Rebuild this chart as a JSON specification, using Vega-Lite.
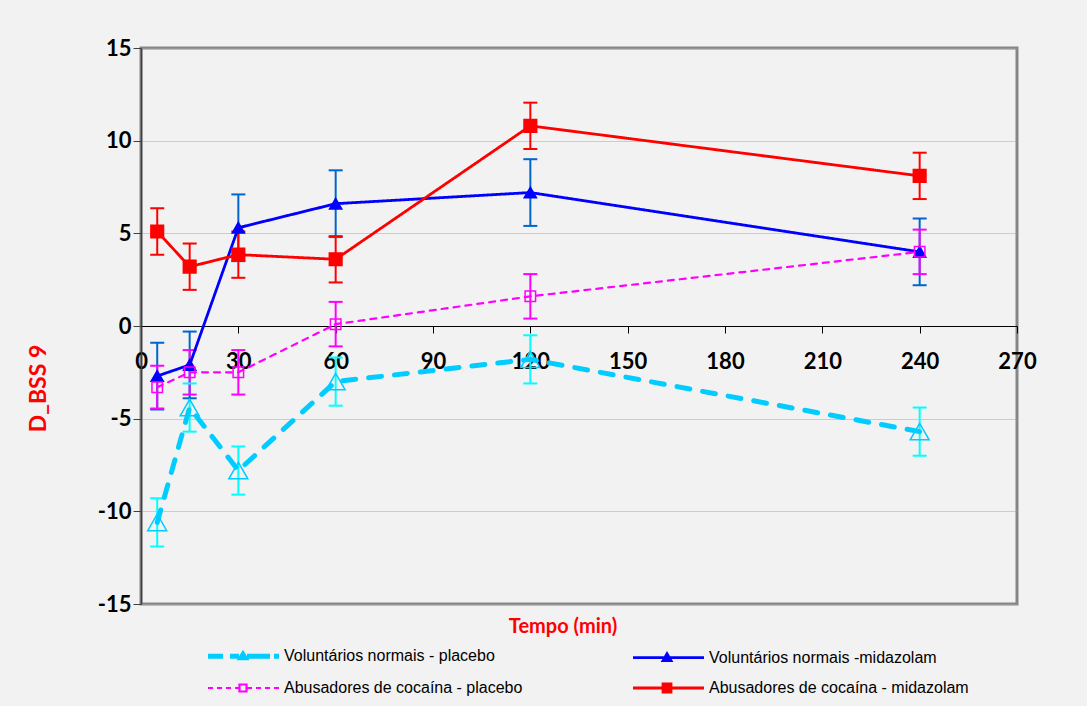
{
  "$schema": "https://vega.github.io/schema/vega-lite/v6.json",
  "width": 876,
  "height": 556,
  "autosize": {"type": "none"},
  "padding": {"left": 141, "top": 48, "right": 70, "bottom": 102},
  "background": "#f2f2f2",
  "config": {
    "view": {"stroke": "#868686", "strokeWidth": 3, "fill": "#f2f2f2"}
  },
  "data": {
    "values": [
      {"serie": "Voluntários normais - placebo", "t": 5, "y": -10.6, "lo": -11.9, "hi": -9.3},
      {"serie": "Voluntários normais - placebo", "t": 15, "y": -4.4, "lo": -5.7, "hi": -3.1},
      {"serie": "Voluntários normais - placebo", "t": 30, "y": -7.8, "lo": -9.1, "hi": -6.5},
      {"serie": "Voluntários normais - placebo", "t": 60, "y": -3.0, "lo": -4.3, "hi": -1.7},
      {"serie": "Voluntários normais - placebo", "t": 120, "y": -1.8, "lo": -3.1, "hi": -0.5},
      {"serie": "Voluntários normais - placebo", "t": 240, "y": -5.7, "lo": -7.0, "hi": -4.4},
      {"serie": "Voluntários normais -midazolam", "t": 5, "y": -2.7, "lo": -4.5, "hi": -0.9},
      {"serie": "Voluntários normais -midazolam", "t": 15, "y": -2.1, "lo": -3.9, "hi": -0.3},
      {"serie": "Voluntários normais -midazolam", "t": 30, "y": 5.3, "lo": 3.5, "hi": 7.1},
      {"serie": "Voluntários normais -midazolam", "t": 60, "y": 6.6, "lo": 4.8, "hi": 8.4},
      {"serie": "Voluntários normais -midazolam", "t": 120, "y": 7.2, "lo": 5.4, "hi": 9.0},
      {"serie": "Voluntários normais -midazolam", "t": 240, "y": 4.0, "lo": 2.2, "hi": 5.8},
      {"serie": "Abusadores de cocaína - placebo", "t": 5, "y": -3.3, "lo": -4.45, "hi": -2.15},
      {"serie": "Abusadores de cocaína - placebo", "t": 15, "y": -2.5, "lo": -3.7, "hi": -1.3},
      {"serie": "Abusadores de cocaína - placebo", "t": 30, "y": -2.5, "lo": -3.7, "hi": -1.3},
      {"serie": "Abusadores de cocaína - placebo", "t": 60, "y": 0.1, "lo": -1.1, "hi": 1.3},
      {"serie": "Abusadores de cocaína - placebo", "t": 120, "y": 1.6, "lo": 0.4, "hi": 2.8},
      {"serie": "Abusadores de cocaína - placebo", "t": 240, "y": 4.0, "lo": 2.8, "hi": 5.2},
      {"serie": "Abusadores de cocaína - midazolam", "t": 5, "y": 5.1, "lo": 3.85, "hi": 6.35},
      {"serie": "Abusadores de cocaína - midazolam", "t": 15, "y": 3.2, "lo": 1.95, "hi": 4.45},
      {"serie": "Abusadores de cocaína - midazolam", "t": 30, "y": 3.85, "lo": 2.6, "hi": 5.1},
      {"serie": "Abusadores de cocaína - midazolam", "t": 60, "y": 3.6, "lo": 2.35, "hi": 4.85},
      {"serie": "Abusadores de cocaína - midazolam", "t": 120, "y": 10.8, "lo": 9.55, "hi": 12.05},
      {"serie": "Abusadores de cocaína - midazolam", "t": 240, "y": 8.1, "lo": 6.85, "hi": 9.35}
    ]
  },
  "encoding": {
    "x": {
      "field": "t",
      "type": "quantitative",
      "scale": {"domain": [0, 270], "nice": false, "zero": false},
      "axis": {
        "values": [0, 30, 60, 90, 120, 150, 180, 210, 240, 270],
        "grid": false,
        "offset": -278,
        "domainColor": "#000000",
        "domainWidth": 1,
        "tickColor": "#000000",
        "tickSize": 7,
        "tickWidth": 1,
        "labelFont": "Lato",
        "labelFontWeight": "bold",
        "labelFontSize": 22,
        "labelColor": "#000000",
        "labelPadding": 18,
        "labelFlush": false,
        "labelOverlap": false,
        "title": "Tempo (min)",
        "titleFont": "Lato",
        "titleFontWeight": "bold",
        "titleFontSize": 20,
        "titleColor": "#ff0000",
        "titleX": 421.5,
        "titleY": 300,
        "titleAlign": "center",
        "titleBaseline": "middle"
      }
    }
  },
  "layer": [
    {
      "mark": {"type": "rule", "strokeWidth": 2},
      "encoding": {
        "y": {"field": "lo", "type": "quantitative", "scale": {"domain": [-15, 15], "nice": false, "zero": false}, "axis": {"title": "D_BSS 9"}},
        "y2": {"field": "hi"},
        "stroke": {
          "field": "serie", "type": "nominal",
          "scale": {"type": "ordinal", "domain": ["Abusadores de cocaína - midazolam", "Abusadores de cocaína - placebo", "Voluntários normais - placebo", "Voluntários normais -midazolam"], "range": ["#ff0000", "#ff00ff", "#00ffff", "#0066cc"]},
          "legend": null
        }
      }
    },
    {
      "mark": {"type": "tick", "orient": "horizontal", "size": 12, "thickness": 0.01, "filled": false, "strokeWidth": 2, "opacity": 1},
      "encoding": {
        "y": {"field": "lo", "type": "quantitative", "axis": {"title": "D_BSS 9"}},
        "stroke": {
          "field": "serie", "type": "nominal",
          "scale": {"type": "ordinal", "domain": ["Abusadores de cocaína - midazolam", "Abusadores de cocaína - placebo", "Voluntários normais - placebo", "Voluntários normais -midazolam"], "range": ["#ff0000", "#ff00ff", "#00ffff", "#0066cc"]},
          "legend": null
        }
      }
    },
    {
      "mark": {"type": "tick", "orient": "horizontal", "size": 12, "thickness": 0.01, "filled": false, "strokeWidth": 2, "opacity": 1},
      "encoding": {
        "y": {"field": "hi", "type": "quantitative", "axis": {"title": "D_BSS 9"}},
        "stroke": {
          "field": "serie", "type": "nominal",
          "scale": {"type": "ordinal", "domain": ["Abusadores de cocaína - midazolam", "Abusadores de cocaína - placebo", "Voluntários normais - placebo", "Voluntários normais -midazolam"], "range": ["#ff0000", "#ff00ff", "#00ffff", "#0066cc"]},
          "legend": null
        }
      }
    },
    {
      "mark": {"type": "line", "strokeCap": "round", "strokeJoin": "round"},
      "encoding": {
        "y": {
          "field": "y", "type": "quantitative",
          "axis": {
            "title": "D_BSS 9",
            "values": [-15, -10, -5, 0, 5, 10, 15],
            "labelExpr": "datum.value",
            "grid": true,
            "gridColor": "#a6a6a6",
            "gridDash": [1, 1],
            "gridWidth": 1,
            "domainColor": "#404040",
            "domainWidth": 1.5,
            "tickColor": "#404040",
            "tickSize": 8,
            "tickWidth": 1,
            "labelFont": "Lato",
            "labelFontWeight": "bold",
            "labelFontSize": 22,
            "labelColor": "#000000",
            "labelPadding": 2,
            "labelFlush": false,
            "titleFont": "Lato",
            "titleFontWeight": "bold",
            "titleFontSize": 23,
            "titleColor": "#ff0000",
            "titleX": -103,
            "titleY": 340,
            "titleAngle": 270,
            "titleAlign": "center",
            "titleBaseline": "middle"
          }
        },
        "color": {
          "field": "serie", "type": "nominal",
          "scale": {"domain": ["Voluntários normais - placebo", "Abusadores de cocaína - placebo", "Voluntários normais -midazolam", "Abusadores de cocaína - midazolam"], "range": ["#00ccff", "#ff00ff", "#0000ff", "#ff0000"]},
          "legend": {
            "title": null,
            "orient": "none",
            "legendX": 59,
            "legendY": 600,
            "columns": 2,
            "columnPadding": 102,
            "rowPadding": 10,
            "padding": 0,
            "symbolSize": 4,
            "labelOffset": 68,
            "labelLimit": 400,
            "labelFont": "Liberation Sans",
            "labelFontSize": 16,
            "labelColor": "#000000"
          }
        },
        "strokeDash": {
          "field": "serie", "type": "nominal",
          "scale": {"type": "ordinal", "domain": ["Abusadores de cocaína - midazolam", "Abusadores de cocaína - placebo", "Voluntários normais - placebo", "Voluntários normais -midazolam"], "range": [[1, 0], [6, 6], [13, 13], [1, 0]]},
          "legend": null
        },
        "strokeWidth": {
          "field": "serie", "type": "nominal",
          "scale": {"type": "ordinal", "domain": ["Voluntários normais - placebo", "Abusadores de cocaína - placebo", "Voluntários normais -midazolam", "Abusadores de cocaína - midazolam"], "range": [5, 2.2, 2.8, 2.8]}
        }
      }
    },
    {
      "transform": [{"filter": {"field": "serie", "oneOf": ["Voluntários normais - placebo", "Voluntários normais -midazolam"]}}],
      "mark": {"type": "point", "shape": "triangle-up", "filled": false, "opacity": 1, "strokeWidth": 1.5},
      "encoding": {
        "y": {"field": "y", "type": "quantitative", "axis": {"title": "D_BSS 9"}},
        "color": {"field": "serie", "type": "nominal"},
        "size": {
          "field": "serie", "type": "nominal",
          "scale": {"type": "ordinal", "domain": ["Abusadores de cocaína - midazolam", "Abusadores de cocaína - placebo", "Voluntários normais - placebo", "Voluntários normais -midazolam"], "range": [160, 110, 360, 150]},
          "legend": null
        },
        "fill": {
          "field": "serie", "type": "nominal",
          "scale": {"type": "ordinal", "domain": ["Voluntários normais - placebo", "Abusadores de cocaína - placebo", "Voluntários normais -midazolam", "Abusadores de cocaína - midazolam"], "range": ["transparent", "transparent", "#0000ff", "#ff0000"]}
        }
      }
    },
    {
      "transform": [{"filter": {"field": "serie", "oneOf": ["Abusadores de cocaína - placebo", "Abusadores de cocaína - midazolam"]}}],
      "mark": {"type": "point", "shape": "square", "filled": false, "opacity": 1, "strokeWidth": 1.5},
      "encoding": {
        "y": {"field": "y", "type": "quantitative", "axis": {"title": "D_BSS 9"}},
        "color": {"field": "serie", "type": "nominal"},
        "size": {
          "field": "serie", "type": "nominal",
          "scale": {"type": "ordinal", "domain": ["Abusadores de cocaína - midazolam", "Abusadores de cocaína - placebo", "Voluntários normais - placebo", "Voluntários normais -midazolam"], "range": [160, 110, 360, 150]},
          "legend": null
        },
        "fill": {
          "field": "serie", "type": "nominal",
          "scale": {"type": "ordinal", "domain": ["Voluntários normais - placebo", "Abusadores de cocaína - placebo", "Voluntários normais -midazolam", "Abusadores de cocaína - midazolam"], "range": ["transparent", "transparent", "#0000ff", "#ff0000"]}
        }
      }
    },
    {
      "transform": [{"filter": "false"}],
      "mark": {"type": "point", "filled": false, "opacity": 1},
      "encoding": {
        "y": {"field": "y", "type": "quantitative", "axis": {"title": "D_BSS 9"}},
        "color": {"field": "serie", "type": "nominal"},
        "fill": {
          "field": "serie", "type": "nominal",
          "scale": {"type": "ordinal", "domain": ["Voluntários normais - placebo", "Abusadores de cocaína - placebo", "Voluntários normais -midazolam", "Abusadores de cocaína - midazolam"], "range": ["transparent", "transparent", "#0000ff", "#ff0000"]}
        },
        "shape": {
          "field": "serie", "type": "nominal",
          "scale": {"domain": ["Voluntários normais - placebo", "Abusadores de cocaína - placebo", "Voluntários normais -midazolam", "Abusadores de cocaína - midazolam"], "range": ["M0,0H15 M22,0H31 M39,0H62 M66,0H71 M33,1.5L35,-1.8L37,1.5Z", "M0,0H5 M9,0H14 M18,0H23 M27,0H31 M31.5,-3.5H38.5V3.5H31.5Z M39,0H44 M48,0H53 M57,0H62 M66,0H71", "M0,0H71 M30,3L34,-4L38,3Z", "M0,0H71 M30,-4H38V4H30Z"]}
        }
      }
    }
  ]
}
